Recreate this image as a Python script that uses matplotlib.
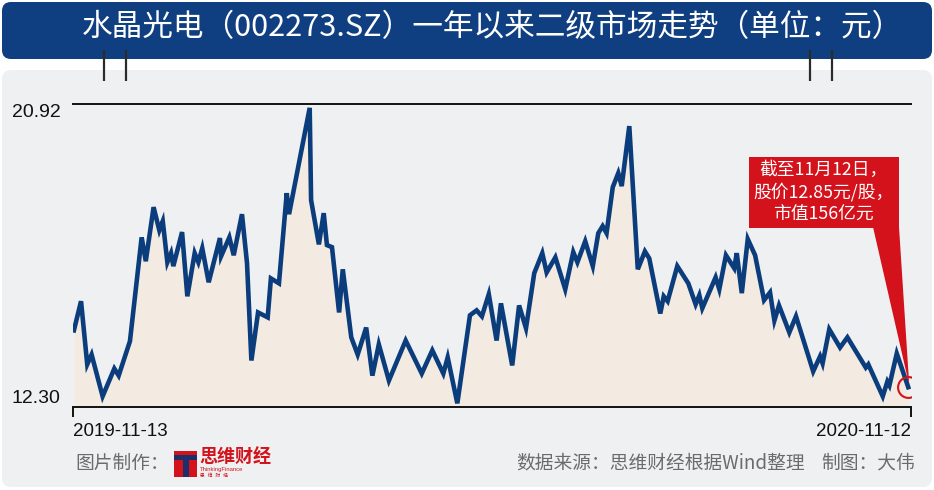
import matplotlib
matplotlib.use('Agg')
import matplotlib.pyplot as plt
from matplotlib.patches import FancyBboxPatch, Rectangle, Polygon
from matplotlib import font_manager

plt.rcParams['font.family'] = ['Noto Sans CJK SC', 'DejaVu Sans']

# ---------------- data ----------------
title = '水晶光电（002273.SZ）一年以来二级市场走势（单位：元）'
start_label = '2019-11-13'
end_label = '2020-11-12'
period_days = 365
y_low = 12.30
y_high = 20.92
# days since 2019-11-13
days = [0.4, 3.5, 6.2, 8.1, 12.9, 18.0, 19.9, 24.8, 29.9, 31.7, 35.1, 37.6, 39.1, 41.1, 42.7,
        43.7, 47.5, 49.8, 53.0, 54.6, 56.3, 59.1, 64.0, 64.5, 68.1, 70.0, 73.6, 75.8, 77.7, 80.6,
        84.8, 86.2, 89.7, 93.1, 94.1, 103.1, 103.7, 107.1, 109.2, 110.6, 112.8, 115.9, 117.5,
        121.2, 124.0, 127.7, 130.4, 133.2, 137.6, 144.9, 151.9, 156.5, 161.3, 163.2, 167.4,
        172.9, 175.8, 178.1, 181.1, 184.5, 186.4, 191.3, 194.3, 197.3, 200.9, 204.4, 206.3,
        210.1, 214.4, 217.9, 219.7, 223.1, 226.4, 228.8, 230.7, 232.4, 235.1, 237.5, 239.0,
        242.3, 246.0, 249.1, 251.0, 255.8, 257.3, 259.0, 263.2, 268.0, 271.2, 272.8, 274.1,
        279.9, 281.5, 284.4, 288.0, 289.1, 291.3, 293.9, 297.1, 301.0, 303.6, 305.5, 307.5,
        312.0, 314.9, 322.4, 325.4, 326.5, 329.4, 334.1, 337.3, 345.3, 346.4, 352.7, 354.7,
        355.6, 358.8, 363.8]
price = [14.47, 15.30, 13.50, 13.78, 12.59, 13.38, 13.18, 14.16, 17.12, 16.44, 17.98, 17.32,
         17.58, 16.41, 16.67, 16.30, 17.27, 15.44, 16.67, 16.41, 16.81, 15.84, 17.10, 16.58,
         17.12, 16.61, 17.78, 16.38, 13.61, 14.98, 14.84, 15.95, 15.81, 18.38, 17.78, 20.81,
         18.18, 16.92, 17.81, 16.90, 16.84, 14.98, 16.21, 14.27, 13.78, 14.55, 13.18, 14.07,
         13.04, 14.18, 13.24, 13.90, 13.24, 13.70, 12.39, 14.90, 15.04, 14.87, 15.50, 14.18,
         15.24, 13.47, 15.18, 14.53, 16.10, 16.67, 16.12, 16.55, 15.64, 16.70, 16.41, 17.01,
         16.30, 17.24, 17.44, 17.24, 18.55, 18.95, 18.58, 20.29, 16.21, 16.72, 16.52, 14.95,
         15.44, 15.30, 16.30, 15.81, 15.21, 15.47, 15.10, 15.98, 15.64, 16.61, 16.24, 16.67,
         15.53, 17.07, 16.61, 15.33, 15.55, 14.75, 15.18, 14.41, 14.87, 13.30, 13.73, 13.53,
         14.50, 13.98, 14.27, 13.41, 13.50, 12.59, 13.01, 12.90, 13.81, 12.85]
callout_lines = ['截至11月12日，', '股价12.85元/股，', '市值156亿元']
credit_text = '图片制作：'
logo_text = '思维财经'
logo_sub = 'ThinkingFinance'
source_text = '数据来源：思维财经根据Wind整理'
maker_text = '制图：大伟'

# ---------------- style ----------------
W, H = 934, 490
navy = '#0f3f80'
line_c = '#0b3d7d'
fill_c = '#f3ebe1'
panel_c = '#eff0f1'
red = '#d3121c'
gray_t = '#6b6b6b'

names = {f.name for f in font_manager.fontManager.ttflist}
num_font = ['Liberation Sans Narrow'] if 'Liberation Sans Narrow' in names else ['Liberation Sans']
num_font = num_font + ['DejaVu Sans']

fig = plt.figure(figsize=(W / 100, H / 100), dpi=100)
fig.patch.set_facecolor('white')

bg = fig.add_axes([0, 0, 1, 1], zorder=0)
bg.set_xlim(0, W)
bg.set_ylim(H, 0)
bg.axis('off')

# panel and banner
bg.add_patch(FancyBboxPatch((2, 70), W - 4, 417, boxstyle='round,pad=0,rounding_size=9',
                            fc=panel_c, ec='none'))
bg.add_patch(FancyBboxPatch((2, 2), W - 4, 57, boxstyle='round,pad=0,rounding_size=9',
                            fc=navy, ec='none'))
bg.text(492, 28, title, color='white', fontsize=22.1, ha='center', va='center')
for xr in (104, 126, 810, 832):
    bg.plot([xr, xr], [50, 81], color='#2b2b2b', lw=1.6, solid_capstyle='butt')

# footer
fs_foot = 13.5
bg.text(75, 463, credit_text, color=gray_t, fontsize=fs_foot, ha='left', va='center')
bg.add_patch(Rectangle((174, 451), 23, 26, fc=red, ec='none'))
bg.add_patch(Rectangle((174, 455), 23, 5, fc='#1d2f6b', ec='none'))
bg.add_patch(Rectangle((182.5, 455), 6, 22, fc='#1d2f6b', ec='none'))
bg.text(199, 457, logo_text, color=red, fontsize=13, fontweight='bold', ha='left', va='center')
bg.text(200, 469, logo_sub, color=red, fontsize=4.2, ha='left', va='center', family=num_font)
bg.text(200, 475.5, '思   维   财   经', color=red, fontsize=3.4, ha='left', va='center')
bg.text(805, 463, source_text, color=gray_t, fontsize=fs_foot, ha='right', va='center')
bg.text(915, 463, maker_text, color=gray_t, fontsize=fs_foot, ha='right', va='center')

# ---------------- chart ----------------
x0, x1 = 73, 911
yb, yt = 406.5, 104
ax = fig.add_axes([x0 / W, (H - yb) / H, (x1 - x0) / W, (yb - yt) / H], zorder=1)
ax.patch.set_alpha(0)
ax.set_xlim(0, period_days)
ax.set_ylim(y_low, y_high)
ax.fill_between(days, price, y_low, color=fill_c, lw=0, zorder=1)
ax.plot(days, price, color=line_c, lw=3.3, solid_joinstyle='miter', zorder=3)
ax.plot([days[-1]], [price[-1]], 'o', ms=15, mfc='none', mec=red, mew=1.5, zorder=4)

for s in ('left', 'right'):
    ax.spines[s].set_visible(False)
for s in ('top', 'bottom'):
    ax.spines[s].set_color('#111111')
    ax.spines[s].set_linewidth(1.4)

ax.set_xticks([0, period_days])
ax.set_xticklabels([start_label, end_label], fontsize=13.5, family=num_font, color='#111111')
ax.get_xticklabels()[0].set_ha('left')
ax.get_xticklabels()[1].set_ha('right')
ax.tick_params(axis='x', direction='out', length=7, width=1.4, color='#111111', pad=5)

ax.set_yticks([y_low, y_high])
ax.set_yticklabels([f'{y_low:.2f}', f'{y_high:.2f}'], fontsize=14, family=num_font,
                   color='#111111')
ax.get_yticklabels()[0].set_va('bottom')
ax.get_yticklabels()[1].set_va('top')
ax.tick_params(axis='y', length=0, pad=9)

# ---------------- callout ----------------
top = fig.add_axes([0, 0, 1, 1], zorder=3)
top.set_xlim(0, W)
top.set_ylim(H, 0)
top.axis('off')
tip_disp = ax.transData.transform((days[-1], price[-1]))
tip = top.transData.inverted().transform(tip_disp)
bx0, bx1, by0, by1 = 749, 899, 157, 228
top.add_patch(Rectangle((bx0, by0), bx1 - bx0, by1 - by0, fc=red, ec='none'))
top.add_patch(Polygon([(873, by1 - 1), (bx1, by1 - 1), (tip[0] + 1, tip[1] - 2)],
                      closed=True, fc=red, ec='none'))
for i, ln in enumerate(callout_lines):
    top.text(823, 170 + 22.5 * i, ln, color='white', fontsize=12.8, ha='center', va='center')

fig.savefig('out.png', dpi=100, facecolor='white')
